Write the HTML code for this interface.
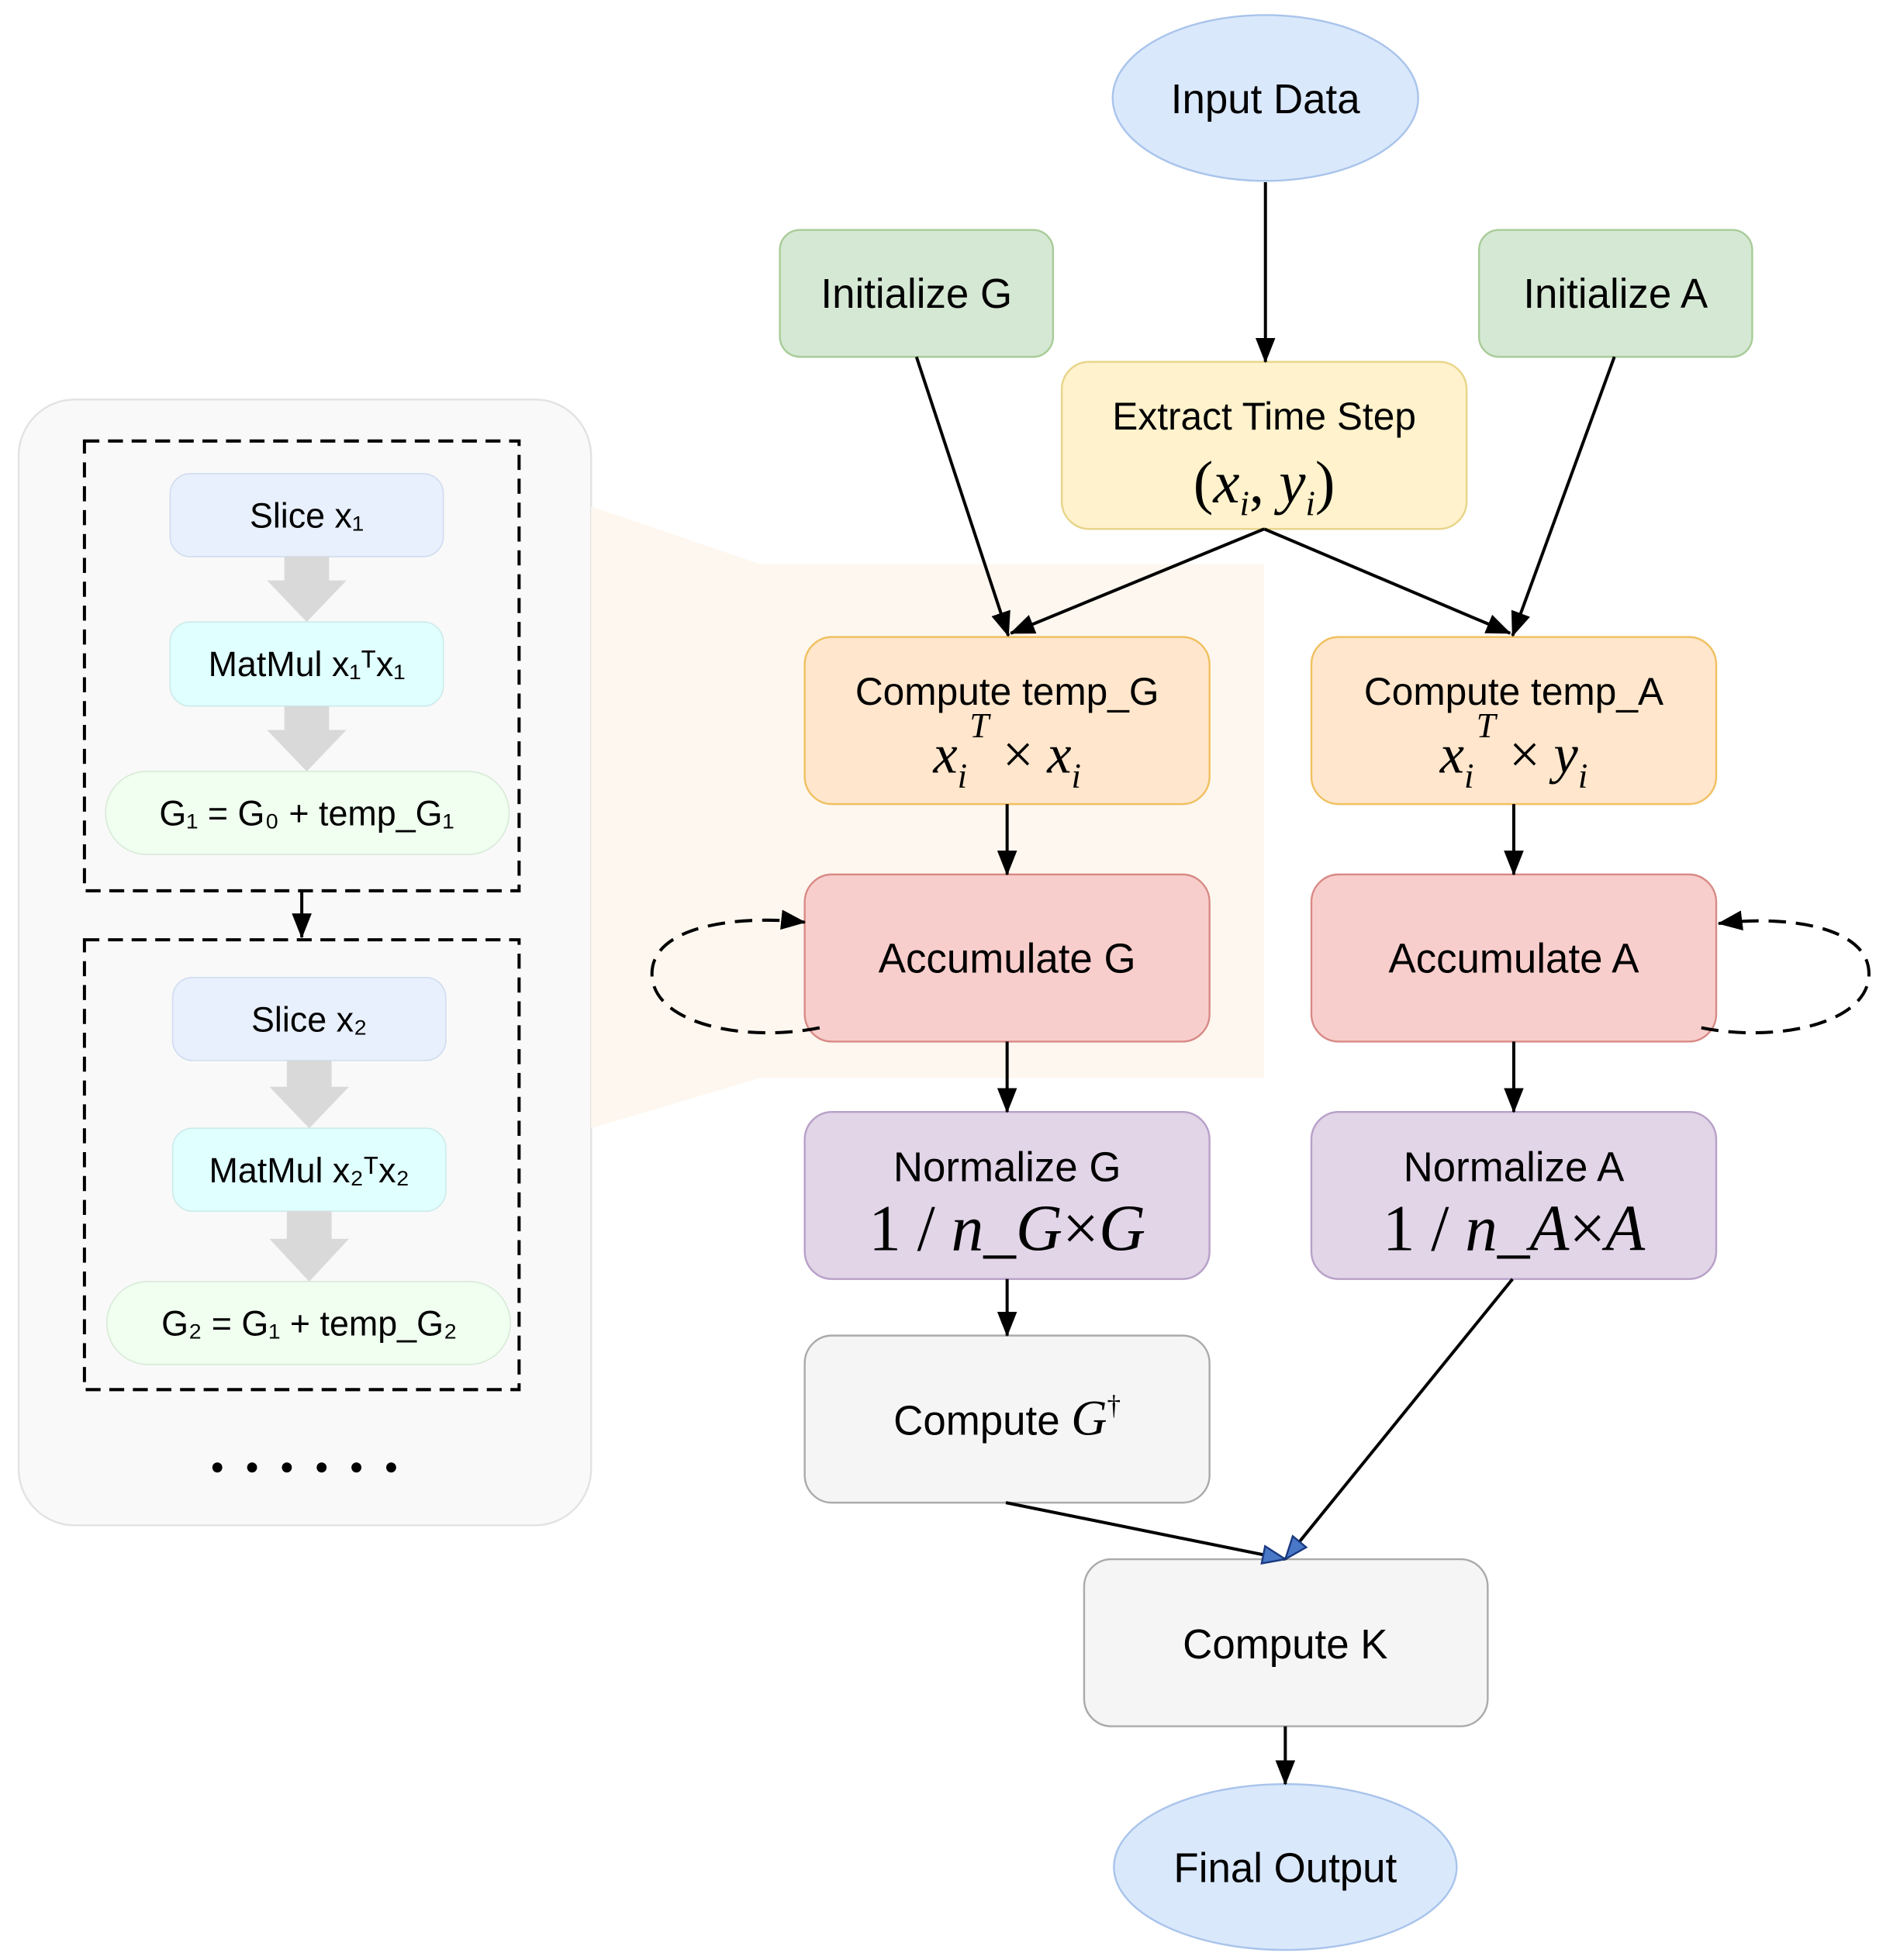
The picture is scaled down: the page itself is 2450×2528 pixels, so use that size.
<!DOCTYPE html>
<html><head><meta charset="utf-8"><style>
html,body{margin:0;padding:0;background:#fff;}
svg{display:block;}
.t{font-family:"Liberation Sans",sans-serif;fill:#000;text-anchor:middle;}
.m{font-family:"Liberation Serif",serif;font-style:italic;fill:#000;text-anchor:middle;}
</style></head><body>
<svg width="2450" height="2528" viewBox="0 0 1530 1560" preserveAspectRatio="none" xmlns="http://www.w3.org/2000/svg">
<defs>
<marker id="ah2" markerWidth="20" markerHeight="16" refX="19" refY="8" orient="auto" markerUnits="userSpaceOnUse">
<path d="M0,0 L20,8 L0,16 z" fill="#000"/></marker>
<marker id="ab" markerWidth="20" markerHeight="16" refX="19" refY="8" orient="auto" markerUnits="userSpaceOnUse">
<path d="M1,1 L19,8 L1,15 z" fill="#4a78c8" stroke="#1a3a80" stroke-width="1.5"/></marker>
</defs>

<rect x="15" y="318" width="461" height="896" rx="45" fill="#f9f9f9" stroke="#e2e2e2" stroke-width="1.5"/>
<polygon points="476,403 612,449 1018,449 1018,858 612,858 476,898" fill="#fef7ef"/>

<rect x="68" y="351" width="350" height="358" fill="none" stroke="#000" stroke-width="2.5" stroke-dasharray="12,7"/>
<rect x="68" y="748" width="350" height="358" fill="none" stroke="#000" stroke-width="2.5" stroke-dasharray="12,7"/>
<line x1="243" y1="709" x2="243" y2="746" stroke="#000" stroke-width="2.5" marker-end="url(#ah2)"/>

<rect x="137" y="377" width="220" height="66" rx="16" fill="#e8f0fd" stroke="#d0dcef"/>
<text class="t" x="247" y="420" font-size="28">Slice x₁</text>
<polygon points="229,443 265,443 265,462 279,462 247,495 215,462 229,462" fill="#d9d9d9"/>
<rect x="137" y="495" width="220" height="67" rx="16" fill="#e0ffff" stroke="#cdeaea"/>
<text class="t" x="247" y="538" font-size="28">MatMul x₁ᵀx₁</text>
<polygon points="229,562 265,562 265,581 279,581 247,614 215,581 229,581" fill="#d9d9d9"/>
<rect x="85" y="614" width="325" height="66" rx="33" fill="#f0fff0" stroke="#d8ead8"/>
<text class="t" x="247" y="657" font-size="28">G₁ = G₀ + temp_G₁</text>

<rect x="139" y="778" width="220" height="66" rx="16" fill="#e8f0fd" stroke="#d0dcef"/>
<text class="t" x="249" y="821" font-size="28">Slice x₂</text>
<polygon points="231,844 267,844 267,865 281,865 249,898 217,865 231,865" fill="#d9d9d9"/>
<rect x="139" y="898" width="220" height="66" rx="16" fill="#e0ffff" stroke="#cdeaea"/>
<text class="t" x="249" y="941" font-size="28">MatMul x₂ᵀx₂</text>
<polygon points="231,964 267,964 267,986 281,986 249,1020 217,986 231,986" fill="#d9d9d9"/>
<rect x="86" y="1020" width="325" height="66" rx="33" fill="#f0fff0" stroke="#d8ead8"/>
<text class="t" x="249" y="1063" font-size="28">G₂ = G₁ + temp_G₂</text>

<g fill="#000"><circle cx="175" cy="1168" r="4"/><circle cx="203" cy="1168" r="4"/><circle cx="231" cy="1168" r="4"/><circle cx="259" cy="1168" r="4"/><circle cx="287" cy="1168" r="4"/><circle cx="315" cy="1168" r="4"/></g>

<ellipse cx="1019" cy="78" rx="123" ry="66" fill="#dae8fc" stroke="#a9c4eb" stroke-width="1.5"/>
<text class="t" x="1019" y="90" font-size="33">Input Data</text>

<rect x="628" y="183" width="220" height="101" rx="16" fill="#d5e8d4" stroke="#a8cc98" stroke-width="1.5"/>
<text class="t" x="738" y="245" font-size="33">Initialize G</text>
<rect x="1191" y="183" width="220" height="101" rx="16" fill="#d5e8d4" stroke="#a8cc98" stroke-width="1.5"/>
<text class="t" x="1301" y="245" font-size="33">Initialize A</text>

<rect x="855" y="288" width="326" height="133" rx="22" fill="#fff2cc" stroke="#e8d58a" stroke-width="1.5"/>
<text class="t" x="1018" y="342" font-size="31">Extract Time Step</text>
<text class="m" x="1018" y="400" font-size="48"><tspan font-style="normal">(</tspan>x<tspan font-size="28" dy="10">i</tspan><tspan dy="-10" font-style="normal">, </tspan>y<tspan font-size="28" dy="10">i</tspan><tspan dy="-10" font-style="normal">)</tspan></text>

<rect x="648" y="507" width="326" height="133" rx="22" fill="#ffe6cc" stroke="#f0c060" stroke-width="1.5"/>
<text class="t" x="811" y="561" font-size="31">Compute temp_G</text>
<text class="m" x="811" y="615" font-size="44">x<tspan font-size="28" dy="12">i</tspan><tspan font-size="28" dx="2" dy="-40">T</tspan><tspan dy="28" font-style="normal"> × </tspan>x<tspan font-size="28" dy="12">i</tspan></text>
<rect x="1056" y="507" width="326" height="133" rx="22" fill="#ffe6cc" stroke="#f0c060" stroke-width="1.5"/>
<text class="t" x="1219" y="561" font-size="31">Compute temp_A</text>
<text class="m" x="1219" y="615" font-size="44">x<tspan font-size="28" dy="12">i</tspan><tspan font-size="28" dx="2" dy="-40">T</tspan><tspan dy="28" font-style="normal"> × </tspan>y<tspan font-size="28" dy="12">i</tspan></text>

<rect x="648" y="696" width="326" height="133" rx="22" fill="#f8cecc" stroke="#d88a86" stroke-width="1.5"/>
<text class="t" x="811" y="774" font-size="33">Accumulate G</text>
<rect x="1056" y="696" width="326" height="133" rx="22" fill="#f8cecc" stroke="#d88a86" stroke-width="1.5"/>
<text class="t" x="1219" y="774" font-size="33">Accumulate A</text>

<rect x="648" y="885" width="326" height="133" rx="22" fill="#e1d5e7" stroke="#b8a0c8" stroke-width="1.5"/>
<text class="t" x="811" y="940" font-size="33">Normalize G</text>
<text class="m" x="811" y="995" font-size="52"><tspan font-style="normal">1 / </tspan>n_G<tspan font-style="normal">×</tspan>G</text>
<rect x="1056" y="885" width="326" height="133" rx="22" fill="#e1d5e7" stroke="#b8a0c8" stroke-width="1.5"/>
<text class="t" x="1219" y="940" font-size="33">Normalize A</text>
<text class="m" x="1219" y="995" font-size="52"><tspan font-style="normal">1 / </tspan>n_A<tspan font-style="normal">×</tspan>A</text>

<rect x="648" y="1063" width="326" height="133" rx="22" fill="#f5f5f5" stroke="#aaaaaa" stroke-width="1.5"/>
<text class="t" x="811" y="1142" font-size="33">Compute <tspan font-family="Liberation Serif" font-style="italic" font-size="40">G</tspan><tspan font-family="Liberation Serif" font-size="22" dy="-16">†</tspan></text>

<rect x="873" y="1241" width="325" height="133" rx="22" fill="#f5f5f5" stroke="#aaaaaa" stroke-width="1.5"/>
<text class="t" x="1035" y="1320" font-size="33">Compute K</text>

<ellipse cx="1035" cy="1486" rx="138" ry="66" fill="#dae8fc" stroke="#a9c4eb" stroke-width="1.5"/>
<text class="t" x="1035" y="1498" font-size="33">Final Output</text>

<g stroke="#000" stroke-width="2.5" fill="none">
<line x1="1019" y1="145" x2="1019" y2="288" marker-end="url(#ah2)"/>
<line x1="738" y1="284" x2="812" y2="506" marker-end="url(#ah2)"/>
<line x1="1300" y1="284" x2="1218" y2="506" marker-end="url(#ah2)"/>
<line x1="1018" y1="421" x2="814" y2="504" marker-end="url(#ah2)"/>
<line x1="1018" y1="421" x2="1216" y2="504" marker-end="url(#ah2)"/>
<line x1="811" y1="640" x2="811" y2="696" marker-end="url(#ah2)"/>
<line x1="1219" y1="640" x2="1219" y2="696" marker-end="url(#ah2)"/>
<line x1="811" y1="829" x2="811" y2="885" marker-end="url(#ah2)"/>
<line x1="1219" y1="829" x2="1219" y2="885" marker-end="url(#ah2)"/>
<line x1="811" y1="1018" x2="811" y2="1063" marker-end="url(#ah2)"/>
<line x1="1035" y1="1374" x2="1035" y2="1420" marker-end="url(#ah2)"/>
<line x1="810" y1="1196" x2="1035" y2="1241" marker-end="url(#ab)"/>
<line x1="1218" y1="1018" x2="1035" y2="1241" marker-end="url(#ab)"/>
<path d="M660,818 C600,830 525,815 525,775 C525,738 590,728 648,734" stroke-dasharray="14,8" marker-end="url(#ah2)"/>
<path d="M1370,818 C1430,830 1505,815 1505,775 C1505,738 1440,728 1384,735" stroke-dasharray="14,8" marker-end="url(#ah2)"/>
</g>
</svg>
</body></html>
